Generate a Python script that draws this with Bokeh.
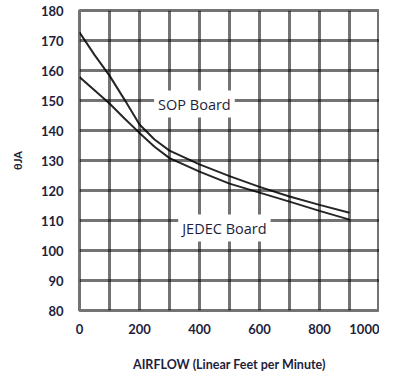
from bokeh.plotting import figure
from bokeh.models import Range1d, FixedTicker, Label
from bokeh.embed import file_html
from bokeh.resources import INLINE

# data
airflow = [0, 50, 100, 150, 200, 250, 300, 400, 500, 600, 700, 800, 900]
sop_board = [172.7, 165.2, 158.3, 150.3, 142.0, 137.0, 133.3, 128.7, 124.8, 121.2, 118.0, 115.2, 112.6]
jedec_board = [157.8, 153.4, 149.0, 144.0, 139.2, 134.6, 130.8, 126.3, 122.3, 119.3, 116.3, 113.2, 110.3]
x_ticks = [0, 200, 400, 600, 800, 1000]
y_ticks = [80, 90, 100, 110, 120, 130, 140, 150, 160, 170, 180]
x_grid = [100, 200, 300, 400, 500, 600, 700, 800, 900]
y_grid = [90, 100, 110, 120, 130, 140, 150, 160, 170]

TXT = "#1e1e3c"
FONT = "Lato"

p = figure(width=394, height=374, output_backend="svg", toolbar_location=None,
           x_range=Range1d(0, 1000), y_range=Range1d(80, 180),
           frame_width=300, frame_height=300,
           min_border_left=79, min_border_top=10, min_border_right=0, min_border_bottom=0)
p.background_fill_color = "white"
p.border_fill_color = "white"
p.outline_line_color = "black"
p.outline_line_alpha = 0.55
p.outline_line_width = 3

p.xaxis.ticker = FixedTicker(ticks=x_ticks)
p.yaxis.ticker = FixedTicker(ticks=y_ticks)
p.xgrid.ticker = FixedTicker(ticks=x_grid)
p.ygrid.ticker = FixedTicker(ticks=y_grid)
for g in (p.xgrid, p.ygrid):
    g.grid_line_color = "black"
    g.grid_line_alpha = 0.55
    g.grid_line_width = 3

for ax in (p.xaxis, p.yaxis):
    ax.axis_line_color = None
    ax.major_tick_line_color = None
    ax.minor_tick_line_color = None
    ax.major_label_text_font = FONT
    ax.major_label_text_font_style = "bold"
    ax.major_label_text_font_size = "13px"
    ax.major_label_text_color = TXT
    ax.axis_label_text_font = FONT
    ax.axis_label_text_font_style = "bold"
    ax.axis_label_text_color = TXT
p.xaxis.major_label_standoff = 7
p.yaxis.major_label_standoff = 10

p.xaxis.axis_label = "AIRFLOW (Linear Feet per Minute)"
p.xaxis.axis_label_text_font_size = "12.5px"
p.xaxis.axis_label_standoff = 20

p.yaxis.axis_label = "θJA"
p.yaxis.axis_label_text_font_size = "11px"
p.yaxis.axis_label_standoff = 14

p.line(airflow, sop_board, line_color="black", line_width=2, line_alpha=0.85)
p.line(airflow, jedec_board, line_color="black", line_width=2, line_alpha=0.85)

p.add_layout(Label(x=383, y=148.8, text="SOP Board", text_align="center", text_baseline="middle",
                   text_font="Open Sans", text_font_size="14.5px", text_color=TXT,
                   background_fill_color="white", padding=4))
p.add_layout(Label(x=483, y=107.5, text="JEDEC Board", text_align="center", text_baseline="middle",
                   text_font="Open Sans", text_font_size="14.5px", text_color=TXT,
                   background_fill_color="white", padding=4))

open("out.html", "w").write(file_html(p, INLINE))
